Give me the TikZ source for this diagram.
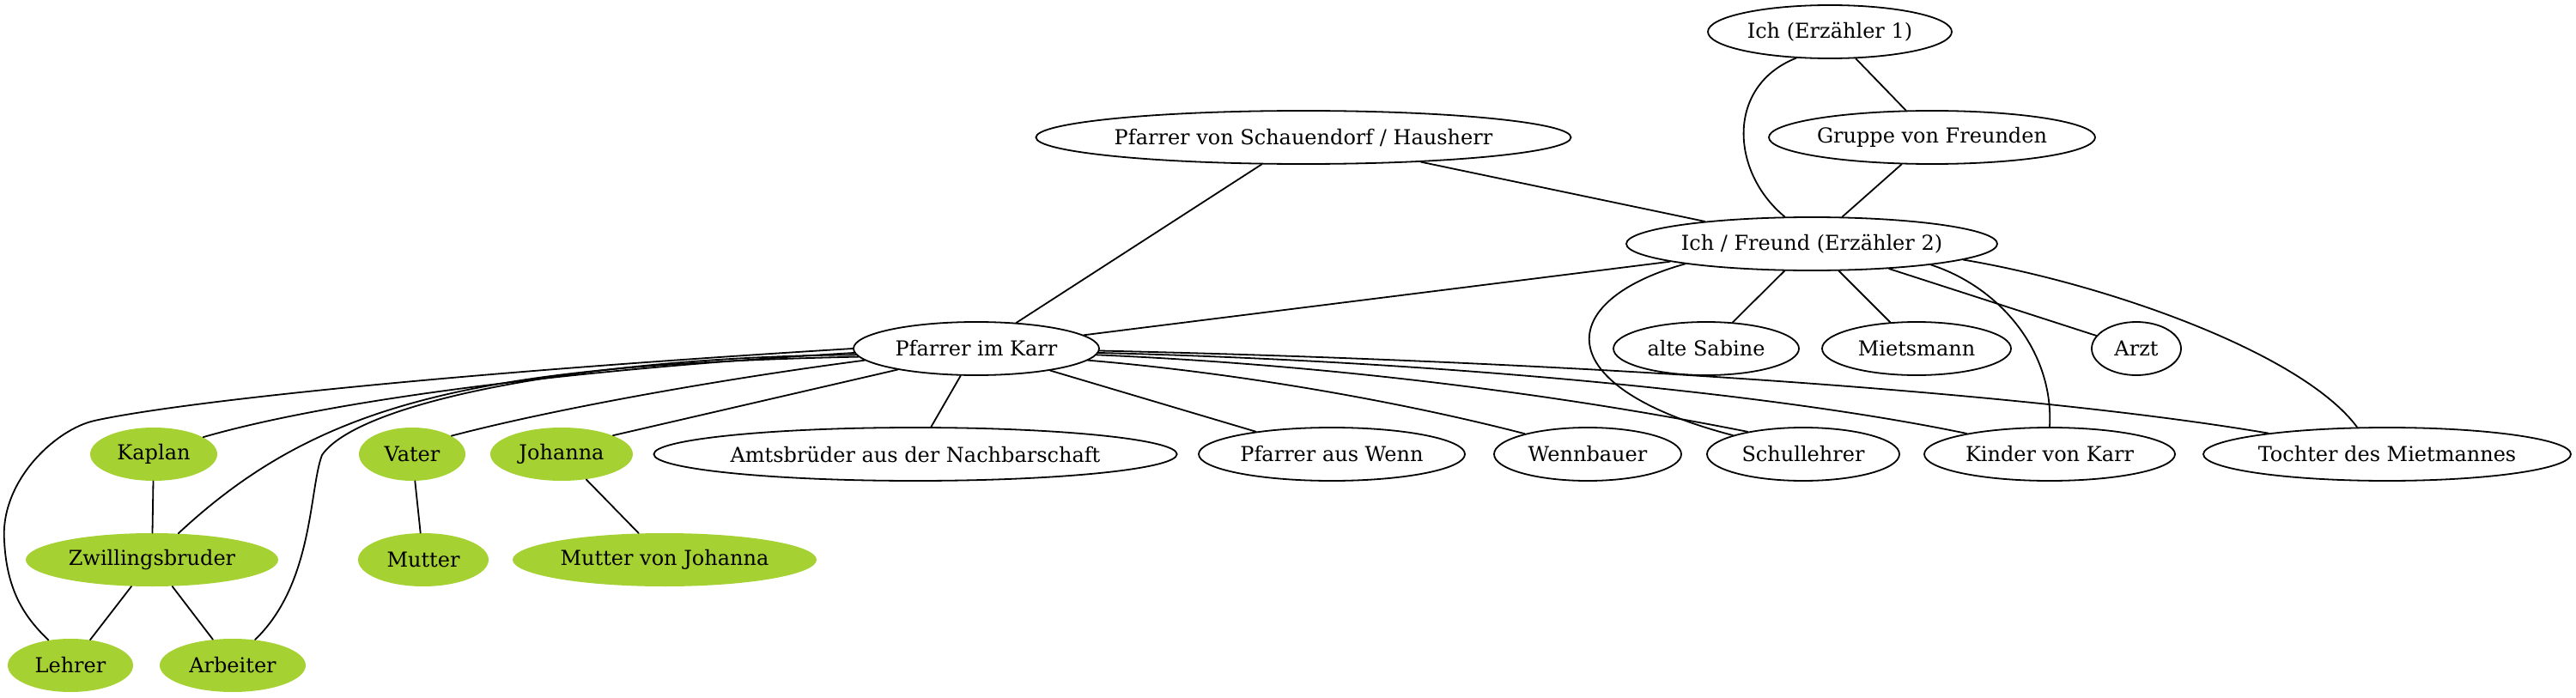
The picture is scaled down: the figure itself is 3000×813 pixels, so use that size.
\documentclass[tikz,border=0pt]{standalone}
\usepackage{fontspec}
\setmainfont{DejaVu Serif}
\usetikzlibrary{shapes.geometric}
\definecolor{leaf}{HTML}{A5D232}
\begin{document}
\begin{tikzpicture}[x=0.5pt,y=-0.5pt,
  every node/.style={font=\fontsize{12}{14}\selectfont},
  wd/.style={minimum width=#1*0.5pt},
  person/.style={ellipse,draw=black,line width=0.9pt,inner sep=0pt,minimum height=31pt},
  family/.style={ellipse,fill=leaf,draw=none,inner sep=0pt,minimum height=31pt},
  link/.style={line width=0.9pt,line cap=round}]
\useasboundingbox (0,0) rectangle (3000,813);
% row 0-1
\node[person,wd=284] (ich1) at (2131,37) {Ich (Erzähler 1)};
\node[person,wd=380] (gruppe) at (2250,160) {Gruppe von Freunden};
\node[person,wd=610] (schau) at (1518,160) {Pfarrer von Schauendorf / Hausherr};
\node[person,wd=432] (ich2) at (2110,284) {Ich / Freund (Erzähler 2)};
% row 3
\node[person,wd=286] (karr) at (1137,406) {Pfarrer im Karr};
\node[person,wd=216] (sabine) at (1987,406) {alte Sabine};
\node[person,wd=220] (miets) at (2232,406) {Mietsmann};
\node[person,wd=104] (arzt) at (2488,406) {Arzt};
% row 4
\node[family,wd=148] (kaplan) at (179,529) {Kaplan};
\node[family,wd=124] (vater) at (480,529) {Vater};
\node[family,wd=166] (johanna) at (654,529) {Johanna};
\node[person,wd=598] (amts) at (1066,529) {Amtsbrüder aus der Nachbarschaft};
\node[person,wd=310] (wenn) at (1551,529) {Pfarrer aus Wenn};
\node[person,wd=218] (wennbauer) at (1849,529) {Wennbauer};
\node[person,wd=224] (schul) at (2100,529) {Schullehrer};
\node[person,wd=292] (kinder) at (2387,529) {Kinder von Karr};
\node[person,wd=428] (tochter) at (2780,529) {Tochter des Mietmannes};
% row 5
\node[family,wd=294] (zwill) at (177,652) {Zwillingsbruder};
\node[family,wd=152] (mutter) at (493,652) {Mutter};
\node[family,wd=354] (mutterj) at (774,652) {Mutter von Johanna};
% row 6
\node[family,wd=146] (lehrer) at (82,775) {Lehrer};
\node[family,wd=170] (arbeiter) at (271,775) {Arbeiter};

% upper edges
\draw[link] (ich1) -- (gruppe);
\draw[link] (ich1.218) .. controls (2010,100) and (2015,200) .. (ich2.135);
\draw[link] (gruppe) -- (ich2);
\draw[link] (schau) -- (ich2);
\draw[link] (schau) -- (karr);
\draw[link] (ich2) -- (karr);
\draw[link] (ich2) -- (sabine);
\draw[link] (ich2) -- (miets);
\draw[link] (ich2) -- (arzt);
\draw[link] (ich2.350) .. controls (2330,335) and (2392,410) .. (kinder.north);
\draw[link] (ich2.354) .. controls (2450,330) and (2680,410) .. (tochter.138);
\draw[link] (ich2.189) .. controls (1810,350) and (1800,450) .. (schul.165);
% Pfarrer im Karr, right side
\draw[link] (karr) -- (amts);
\draw[link] (karr) -- (wenn);
\draw[link] (karr.354) .. controls (1450,435) and (1640,470) .. (wennbauer.162);
\draw[link] (karr.357) .. controls (1550,425) and (1820,460) .. (schul.158);
\draw[link] (karr.358) .. controls (1650,420) and (2050,455) .. (kinder.166);
\draw[link] (karr.359) .. controls (1800,420) and (2350,455) .. (tochter.170);
% Pfarrer im Karr, left side
\draw[link] (karr.182) .. controls (700,428) and (400,462) .. (kaplan.19);
\draw[link] (karr.186) .. controls (850,440) and (650,475) .. (vater.25);
\draw[link] (karr.195) -- (johanna.20);
\draw[link] (karr.184) .. controls (550,425) and (370,470) .. (zwill.45);
\draw[link] (karr.180) .. controls (500,436) and (200,470) .. (110,490)
  .. controls (65,500) and (0,560) .. (5,630)
  .. controls (8,690) and (30,720) .. (lehrer.131);
\draw[link] (karr.183) .. controls (700,415) and (420,465) .. (375,530)
  .. controls (360,570) and (365,680) .. (arbeiter.49);
% family edges
\draw[link] (kaplan) -- (zwill);
\draw[link] (zwill) -- (lehrer);
\draw[link] (zwill) -- (arbeiter);
\draw[link] (vater) -- (mutter);
\draw[link] (johanna) -- (mutterj);
\end{tikzpicture}
\end{document}
